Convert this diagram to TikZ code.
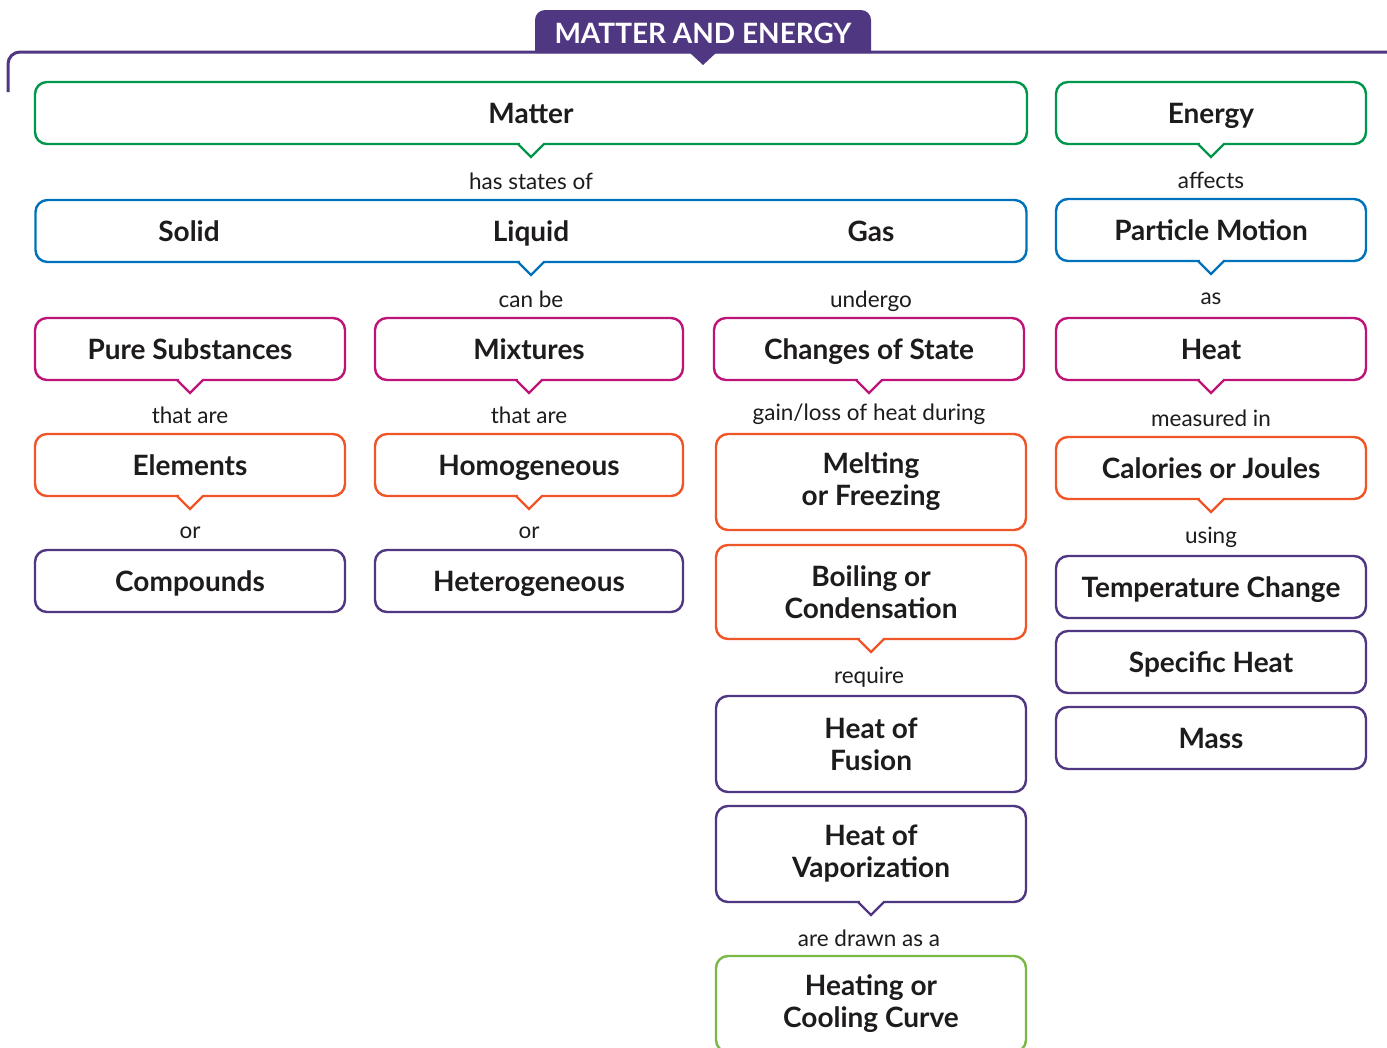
\documentclass[tikz,border=0pt]{standalone}
\usepackage{fontspec}
\setmainfont{Lato}
\usetikzlibrary{calc}
\definecolor{ink}{RGB}{30,27,28}
\definecolor{cgreen}{RGB}{0,150,75}
\definecolor{cblue}{RGB}{0,114,188}
\definecolor{cmag}{RGB}{190,20,120}
\definecolor{corange}{RGB}{240,85,40}
\definecolor{cpurple}{RGB}{80,55,130}
\definecolor{clgreen}{RGB}{122,184,72}
\tikzset{
  cbox/.style={draw=#1, rounded corners=12pt, line width=2.4pt, fill=white,
    minimum width=310pt, minimum height=62pt, inner sep=0pt, outer sep=0pt,
    font=\fontsize{28}{32}\selectfont\bfseries, text=ink, align=center,
    text height=20pt, text depth=0pt},
  tall/.style={minimum height=96pt, text height={}, text depth={}},
  lbl/.style={font=\fontsize{22.5}{26}\selectfont, text=ink, inner sep=0pt},
  btxt/.style={font=\fontsize{28}{32}\selectfont\bfseries, text=ink, inner sep=0pt, anchor=base},
}
\newcommand\notch[2]{%
  \fill[white] ($(#1.south)+(-11.5,-1.6)$) rectangle ($(#1.south)+(11.5,1.6)$);
  \draw[#2, line width=2.4pt, fill=white, line join=miter]
    ($(#1.south)+(-13,0)$) -- ($(#1.south)+(0,13)$) -- ($(#1.south)+(13,0)$);
}
\begin{document}
\begin{tikzpicture}[x=1pt,y=-1pt]
\clip (0,0) rectangle (1387,1047);
\fill[white] (0,0) rectangle (1387,1047);
% header
\draw[cpurple, line width=3pt, rounded corners=12pt] (8,92) -- (8,52) -- (1390,52);
\fill[cpurple] (535,53) [rounded corners=10pt] -- (535,10) -- (871,10) [sharp corners] -- (871,53) -- cycle;
\fill[cpurple] (689,52) -- (717,52) -- (703,65) -- cycle;
\node[font=\fontsize{28}{32}\selectfont\bfseries, text=white] (title) at (703,33) {MATTER AND ENERGY};
% row 1
\node[cbox=cgreen, minimum width=992pt] (matter) at (531,113) {Matter};
\notch{matter}{cgreen}
\node[cbox=cgreen] (energy) at (1211,113) {Energy};
\notch{energy}{cgreen}
\node[lbl] (l1) at (531,181) {has states of};
\node[lbl] (l2) at (1211,180) {affects};
% row 2
\node[cbox=cblue, minimum width=991pt] (states) at (531,231) {};
\notch{states}{cblue}
\node[btxt] (solid) at (189,241) {Solid};
\node[btxt] (liquid) at (531,241) {Liquid};
\node[btxt] (gas) at (871,241) {Gas};
\node[cbox=cblue] (motion) at (1211,230) {Particle Motion};
\notch{motion}{cblue}
\node[lbl] (l3) at (531,299) {can be};
\node[lbl] (l4) at (871,301) {undergo};
\node[lbl] (l5) at (1211,299) {as};
% row 3
\node[cbox=cmag] (pure) at (190,349) {Pure Substances};
\notch{pure}{cmag}
\node[cbox=cmag, minimum width=308pt] (mix) at (529,349) {Mixtures};
\notch{mix}{cmag}
\node[cbox=cmag] (change) at (869,349) {Changes of State};
\notch{change}{cmag}
\node[cbox=cmag] (heat) at (1211,349) {Heat};
\notch{heat}{cmag}
\node[lbl] (l6) at (190,415) {that are};
\node[lbl] (l7) at (529,415) {that are};
\node[lbl] (l8) at (869,414) {gain/loss of heat during};
\node[lbl] (l9) at (1211,418) {measured in};
% row 4
\node[cbox=corange] (elem) at (190,465) {Elements};
\notch{elem}{corange}
\node[cbox=corange, minimum width=308pt] (homo) at (529,465) {Homogeneous};
\notch{homo}{corange}
\node[cbox=corange, tall] (melt) at (871,482) {Melting\\or Freezing};
\node[cbox=corange] (cal) at (1211,468) {Calories or Joules};
\notch{cal}{corange}
\node[lbl] (l10) at (190,533) {or};
\node[lbl] (l11) at (529,533) {or};
\node[lbl] (l12) at (1211,537) {using};
% row 5
\node[cbox=cpurple] (comp) at (190,581) {Compounds};
\node[cbox=cpurple, minimum width=308pt] (hetero) at (529,581) {Heterogeneous};
\node[cbox=corange, tall, minimum height=94pt] (boil) at (871,592) {Boiling or\\Condensation};
\notch{boil}{corange}
\node[cbox=cpurple] (temp) at (1211,587) {Temperature Change};
\node[cbox=cpurple] (spec) at (1211,662) {Specific Heat};
\node[cbox=cpurple] (mass) at (1211,738) {Mass};
\node[lbl] (l13) at (869,677) {require};
\node[cbox=cpurple, tall] (fusion) at (871,744) {Heat of\\Fusion};
\node[cbox=cpurple, tall] (vapor) at (871,854) {Heat of\\Vaporization};
\notch{vapor}{cpurple}
\node[lbl] (l14) at (869,938) {are drawn as a};
\node[cbox=clgreen, tall] (curve) at (871,1004) {Heating or\\Cooling Curve};
\end{tikzpicture}
\end{document}
